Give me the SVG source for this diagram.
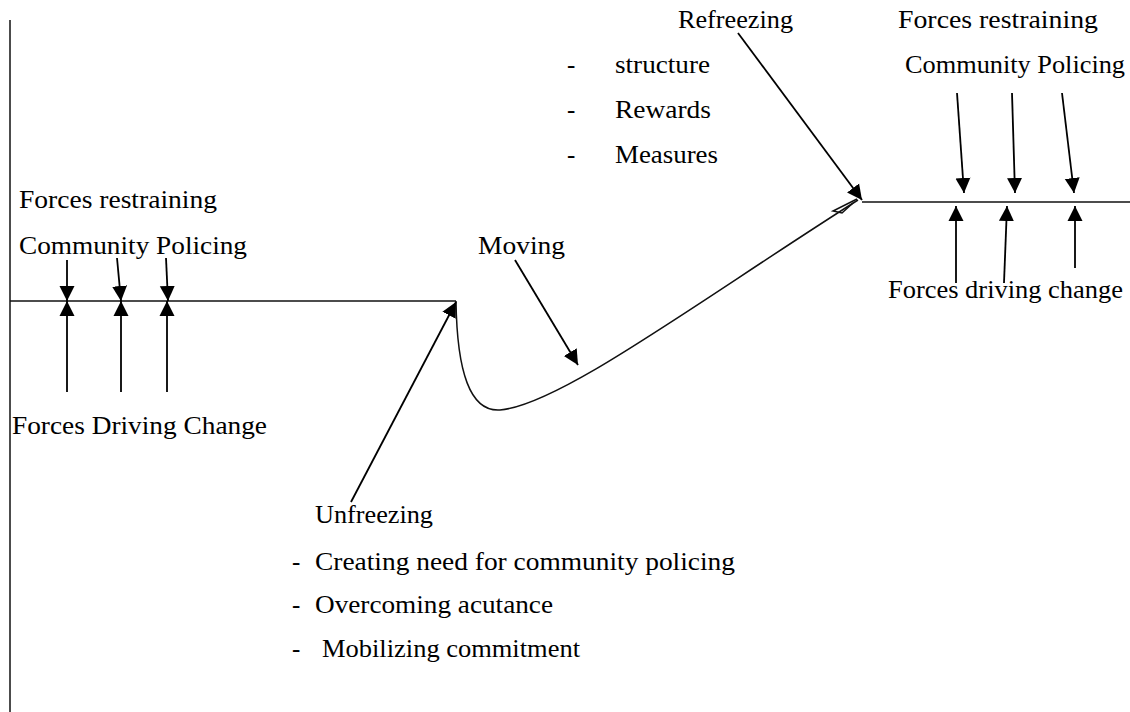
<svg xmlns="http://www.w3.org/2000/svg" width="1130" height="712" viewBox="0 0 1130 712">
<style>
text{font-family:"Liberation Serif","Times New Roman",serif;font-size:25px;fill:#000}
.ln{stroke:#111;stroke-width:1.5;fill:none}
.ar{stroke:#000;stroke-width:1.8;fill:none;marker-end:url(#ah)}
</style>
<defs>
<marker id="ah" markerUnits="userSpaceOnUse" markerWidth="17" markerHeight="17" refX="15" refY="8" orient="auto">
<path d="M0,0.5 L15,8 L0,15.5 z" fill="#000"/>
</marker>
</defs>
<rect width="1130" height="712" fill="#fff"/>
<g id="axes">
<line class="ln" x1="10" y1="20" x2="10" y2="712"/>
<line class="ln" x1="10" y1="301" x2="456" y2="301"/>
<path class="ln" d="M456,301 C457,372 470,412 500,410 C560,405 700,300 858,200"/>
<path class="ln" stroke-width="1" d="M857,199 L833,211 L842,213 L853,203"/>
<line class="ln" x1="862" y1="202" x2="1130" y2="202"/>
</g>
<g id="connectors">
<line class="ar" x1="67" y1="260" x2="67" y2="301"/>
<line class="ar" x1="117" y1="258" x2="121" y2="301"/>
<line class="ar" x1="166" y1="258" x2="168" y2="301"/>
<line class="ar" x1="67" y1="392" x2="67" y2="301"/>
<line class="ar" x1="121" y1="392" x2="121" y2="301"/>
<line class="ar" x1="167" y1="392" x2="167" y2="301"/>
<line class="ar" x1="351" y1="502" x2="456" y2="302"/>
<line class="ar" x1="515" y1="260" x2="578" y2="365"/>
<line class="ar" x1="738" y1="33" x2="862" y2="200"/>
<line class="ar" x1="957" y1="93" x2="964" y2="193"/>
<line class="ar" x1="1012" y1="93" x2="1015" y2="193"/>
<line class="ar" x1="1062" y1="93" x2="1074" y2="193"/>
<line class="ar" x1="956" y1="283" x2="956" y2="206"/>
<line class="ar" x1="1004" y1="283" x2="1007" y2="206"/>
<line class="ar" x1="1075" y1="268" x2="1075" y2="206"/>
</g>
<g id="left-labels">
<text x="19" y="208" textLength="198" lengthAdjust="spacingAndGlyphs">Forces restraining</text>
<text x="19" y="254" textLength="228" lengthAdjust="spacingAndGlyphs">Community Policing</text>
<text x="12" y="434" textLength="255" lengthAdjust="spacingAndGlyphs">Forces Driving Change</text>
</g>
<g id="moving">
<text x="478" y="254" textLength="87" lengthAdjust="spacingAndGlyphs">Moving</text>
</g>
<g id="unfreezing">
<text x="315" y="523" textLength="118" lengthAdjust="spacingAndGlyphs">Unfreezing</text>
<text x="292" y="570">-</text>
<text x="315" y="570" textLength="420" lengthAdjust="spacingAndGlyphs">Creating need for community policing</text>
<text x="292" y="613">-</text>
<text x="315" y="613" textLength="238" lengthAdjust="spacingAndGlyphs">Overcoming acutance</text>
<text x="292" y="657">-</text>
<text x="322" y="657" textLength="258" lengthAdjust="spacingAndGlyphs">Mobilizing commitment</text>
</g>
<g id="refreezing">
<text x="678" y="28" textLength="115" lengthAdjust="spacingAndGlyphs">Refreezing</text>
<text x="567" y="73">-</text>
<text x="615" y="73" textLength="95" lengthAdjust="spacingAndGlyphs">structure</text>
<text x="567" y="118">-</text>
<text x="615" y="118" textLength="96" lengthAdjust="spacingAndGlyphs">Rewards</text>
<text x="567" y="163">-</text>
<text x="615" y="163" textLength="103" lengthAdjust="spacingAndGlyphs">Measures</text>
</g>
<g id="right-labels">
<text x="898" y="28" textLength="200" lengthAdjust="spacingAndGlyphs">Forces restraining</text>
<text x="905" y="73" textLength="220" lengthAdjust="spacingAndGlyphs">Community Policing</text>
<text x="888" y="298" textLength="235" lengthAdjust="spacingAndGlyphs">Forces driving change</text>
</g>
</svg>
